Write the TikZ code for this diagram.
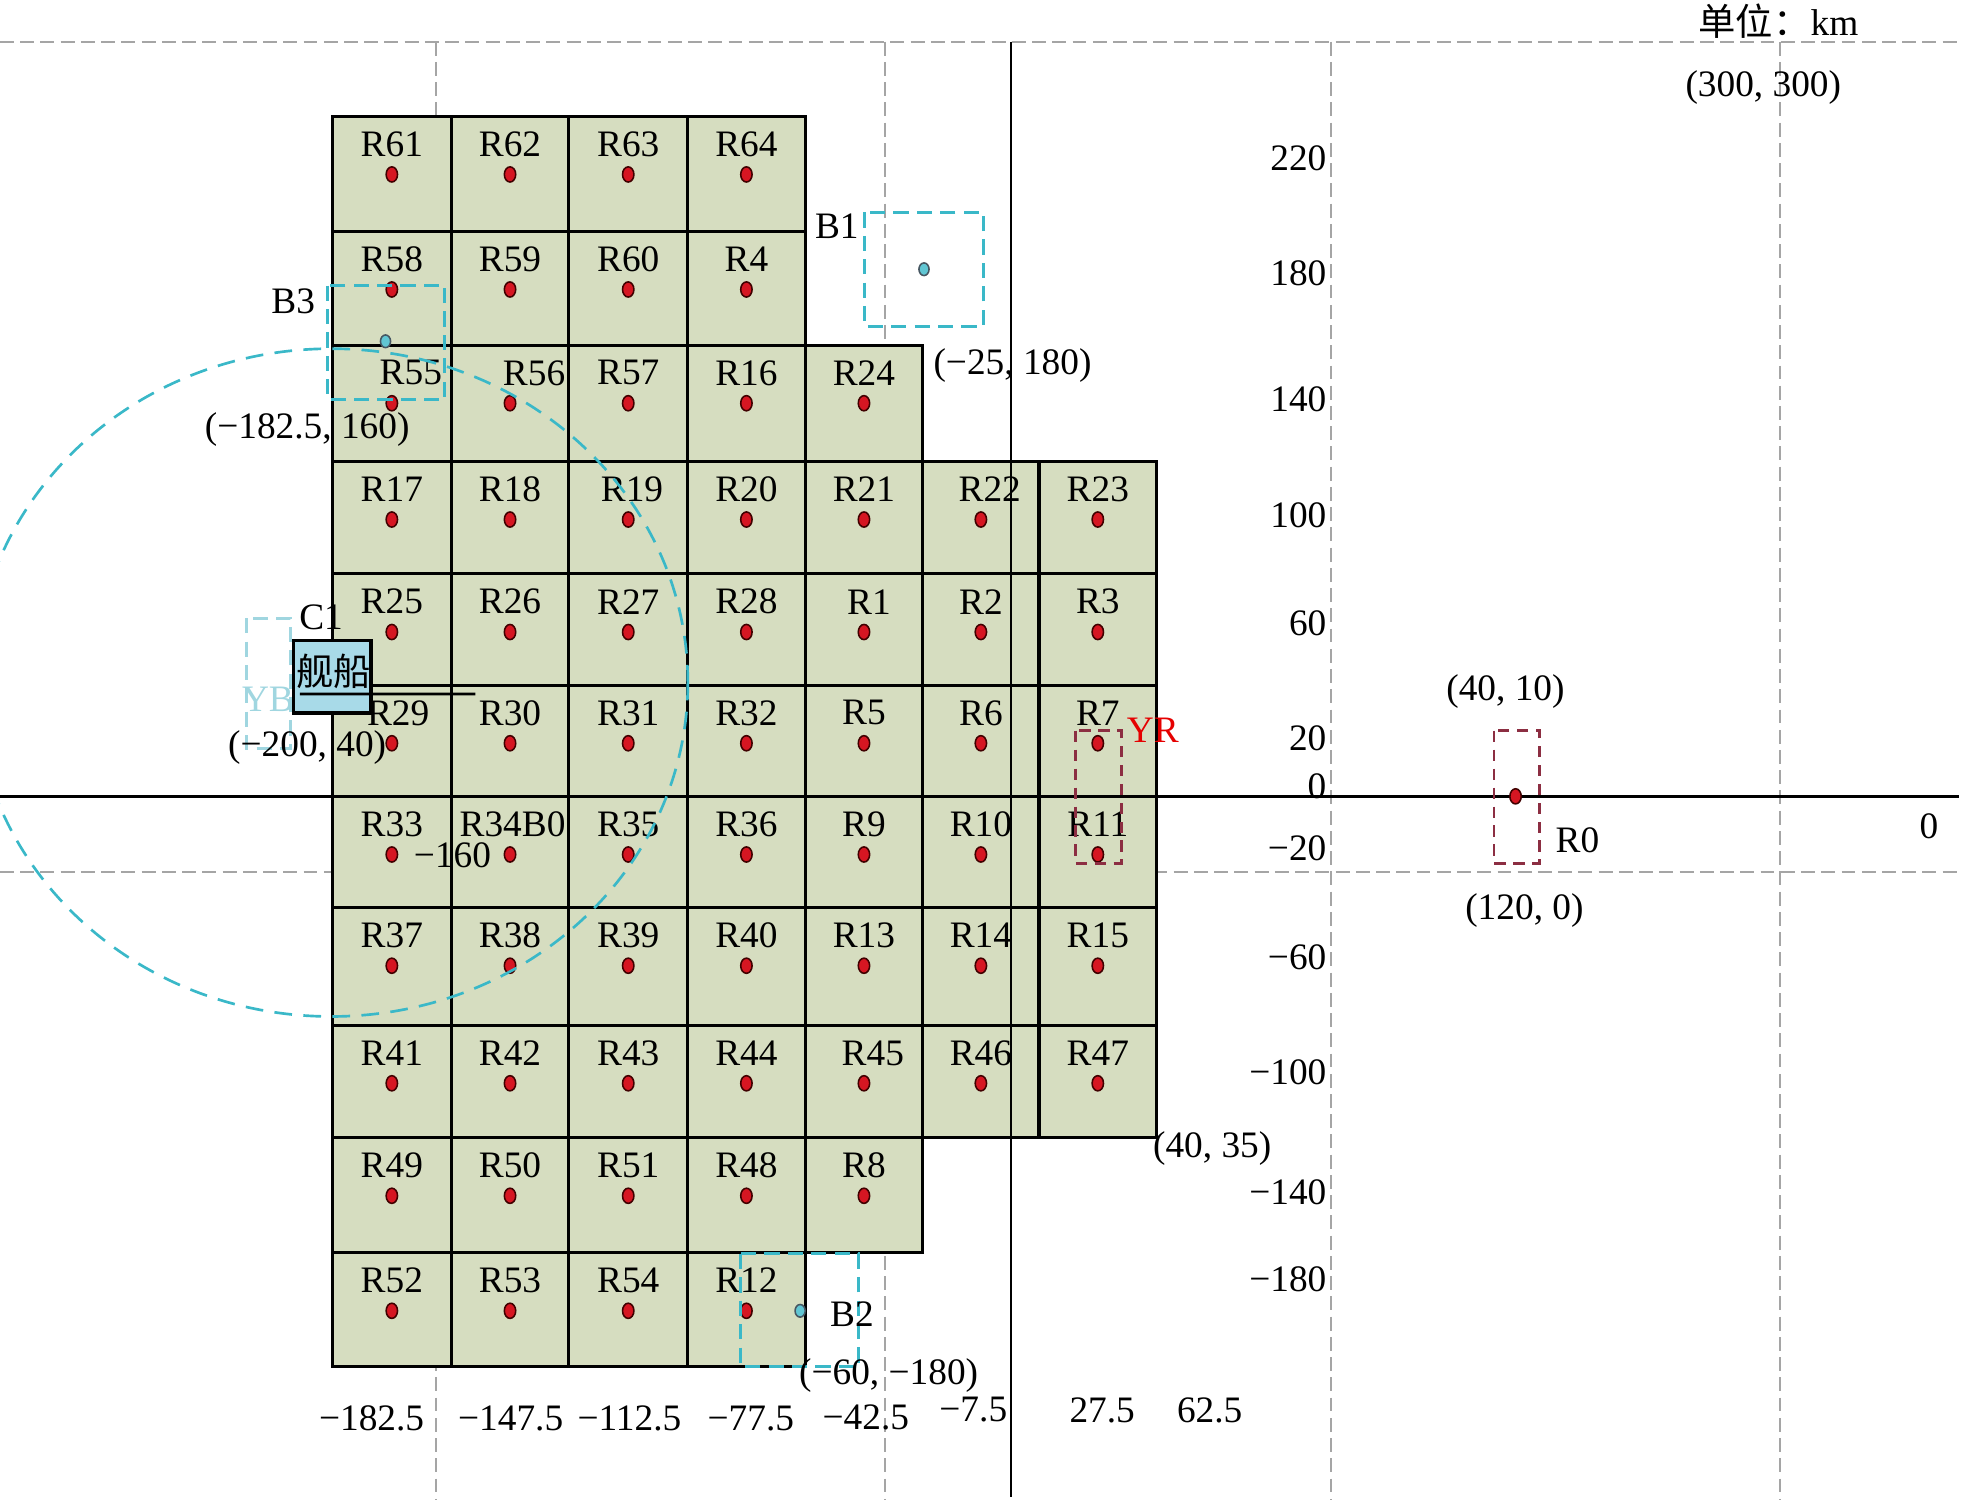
\documentclass[tikz,border=0pt]{standalone}
\usepackage{fontspec}
\setmainfont{Liberation Serif}
\newfontfamily\cjk{Noto Sans CJK SC}
\usetikzlibrary{shapes.geometric,positioning}
\definecolor{cellgreen}{RGB}{214,221,192}
\definecolor{shipblue}{RGB}{168,218,232}
\definecolor{bcyan}{RGB}{58,184,200}
\definecolor{ybcyan}{RGB}{160,214,224}
\definecolor{rdash}{RGB}{140,46,66}
\definecolor{dotred}{RGB}{214,22,34}
\definecolor{gridgray}{RGB}{165,165,165}

\begin{document}
\begin{tikzpicture}[x=0.01cm,y=-0.01cm,font=\fontsize{8.4}{10}\selectfont]
  \tikzstyle{cell}=[draw=black,fill=cellgreen,line width=0.7pt]
  \tikzstyle{lab}=[inner sep=0pt]
  \tikzstyle{rdot}=[ellipse,draw=black!75!red,fill=dotred,line width=0.35pt,minimum width=0.09cm,minimum height=0.12cm,inner sep=0pt]
  \tikzstyle{bdot}=[ellipse,draw=black!70!cyan,fill=bcyan!80,line width=0.35pt,minimum width=0.08cm,minimum height=0.1cm,inner sep=0pt]
  \tikzstyle{guide}=[gridgray,line width=0.45pt,dash pattern=on 0.11cm off 0.05cm]
  \tikzstyle{axis}=[black,line width=0.55pt]
  \tikzstyle{bbox}=[bcyan,line width=0.7pt,dash pattern=on 0.12cm off 0.065cm]
  \tikzstyle{rbox}=[rdash,line width=0.6pt,dash pattern=on 0.09cm off 0.06cm]

  \useasboundingbox (0,0) rectangle (1568,1187);

  \foreach \gx in {345,700,1053,1408}
    \draw[guide] (\gx,33) -- (\gx,1187);
  \draw[guide] (0,33) -- (1552,33);
  \draw[guide] (0,690) -- (1550,690);

  \foreach \nm/\c/\r/\dx in {R61/0/0/0,R62/1/0/0,R63/2/0/0,R64/3/0/0,
      R58/0/1/0,R59/1/1/0,R60/2/1/0,R4/3/1/0,
      R55/0/2/15,R56/1/2/19,R57/2/2/0,R16/3/2/0,R24/4/2/0,
      R17/0/3/0,R18/1/3/0,R19/2/3/3,R20/3/3/0,R21/4/3/0,R22/5/3/7,R23/6/3/0,
      R25/0/4/0,R26/1/4/0,R27/2/4/0,R28/3/4/0,R1/4/4/4,R2/5/4/0,R3/6/4/0,
      R29/0/5/5,R30/1/5/0,R31/2/5/0,R32/3/5/0,R5/4/5/0,R6/5/5/0,R7/6/5/0,
      R33/0/6/0,R34B0/1/6/2,R35/2/6/0,R36/3/6/0,R9/4/6/0,R10/5/6/0,R11/6/6/0,
      R37/0/7/0,R38/1/7/0,R39/2/7/0,R40/3/7/0,R13/4/7/0,R14/5/7/0,R15/6/7/0,
      R41/0/8/0,R42/1/8/0,R43/2/8/0,R44/3/8/0,R45/4/8/7,R46/5/8/0,R47/6/8/0,
      R49/0/9/0,R50/1/9/0,R51/2/9/0,R48/3/9/0,R8/4/9/0,
      R52/0/10/0,R53/1/10/0,R54/2/10/0,R12/3/10/0} {
    \pgfmathsetmacro\xl{{263,357,450,544,637,730,822,915}[\c]}
    \pgfmathsetmacro\xr{{263,357,450,544,637,730,822,915}[\c+1]}
    \pgfmathsetmacro\yt{{92,183,273,365,454,542,630,718,811,900,991,1081}[\r]}
    \pgfmathsetmacro\yb{{92,183,273,365,454,542,630,718,811,900,991,1081}[\r+1]}
    \draw[cell] (\xl,\yt) rectangle (\xr,\yb);
    \node[lab] (\nm) at ({(\xl+\xr)/2+\dx},{\yt+22}) {\nm};
    \node[rdot] (\nm-d) at ({(\xl+\xr)/2},{\yt+46}) {};
  }

  \coordinate (xw) at (0,630);
  \coordinate (xe) at (1550,630);
  \coordinate (yn) at (800,33);
  \coordinate (ys) at (800,1184);
  \draw[axis] (xw) -- (xe);
  \draw[axis] (yn) -- (ys);

  \draw[bbox,line width=0.6pt,dash pattern=on 0.14cm off 0.09cm] (262,540) ellipse [x radius=2.82cm,y radius=2.64cm];

  \draw[bbox] (259,226) rectangle (352,316);
  \draw[bbox] (684,168) rectangle (778,258);
  \draw[bbox] (586,992) rectangle (679,1081);
  \draw[bbox,ybcyan] (195,489) rectangle (230,592);
  \draw[rbox] (851,578) rectangle (887,683);
  \draw[rbox] (1182,578) rectangle (1218,683);

  \node[lab,text=ybcyan] (YB) at (212,553) {YB};
  \node[draw=black,fill=shipblue,line width=0.7pt,minimum width=0.61cm,minimum height=0.57cm,inner sep=0pt] (ship) at (263,535.5) {};
  \node[lab] (shipname) at (264,531) {\cjk 舰船};
  \coordinate (wake) at (376,549);
  \draw[line width=0.6pt] ([xshift=0.06cm,yshift=-0.135cm]ship.west) -- (wake);

  \node[bdot] (B3-d) at (305,270) {};
  \node[bdot] (B1-d) at (731,213) {};
  \node[bdot] (B2-d) at (633,1037) {};
  \node[rdot] (R0-d) at (1199,630) {};

  \node[lab] (unit) at (1407,17) {{\cjk 单位：}km};
  \node[lab] (corner) at (1395,69) {(300, 300)};
  \foreach \t/\ty in {220/125,180/216,140/316,100/408,60/493,20/584,0/622,−20/671,−60/757,−100/848,−140/943,−180/1012}
    \node[lab,anchor=east] (yt\ty) at (1050,\ty) {\t};
  \foreach \t/\tx/\ty in {−182.5/294/1122,−147.5/404/1122,−112.5/498/1122,−77.5/594/1122,−42.5/685/1121,−7.5/770/1115,27.5/872/1116,62.5/957/1116}
    \node[lab] (xt\tx) at (\tx,\ty) {\t};
  \node[lab] (xzero) at (1526,654) {0};

  \node[lab] (pB3) at (243,340) {(−182.5, 160)};
  \node[lab] (pB1) at (801,289) {(−25, 180)};
  \node[lab] (pC1) at (243,591) {(−200, 40)};
  \node[lab] (pB2) at (703,1088) {(−60, −180)};
  \node[lab] (pgrid) at (959,909) {(40, 35)};
  \node[lab] (pR0a) at (1191,547) {(40, 10)};
  \node[lab] (pR0b) at (1206,720) {(120, 0)};
  \node[lab] (R0) at (1248,665) {R0};
  \node[lab] (B1) at (662,179) {B1};
  \node[lab] (B2) at (674,1040) {B2};
  \node[lab] (B3) at (232,238) {B3};
  \node[lab] (C1) at (254,488) {C1};
  \node[lab,text=red!90!black] (YR) at (912,578) {YR};
  \node[lab] (m160) at (358,677) {−160};
\end{tikzpicture}
\end{document}
